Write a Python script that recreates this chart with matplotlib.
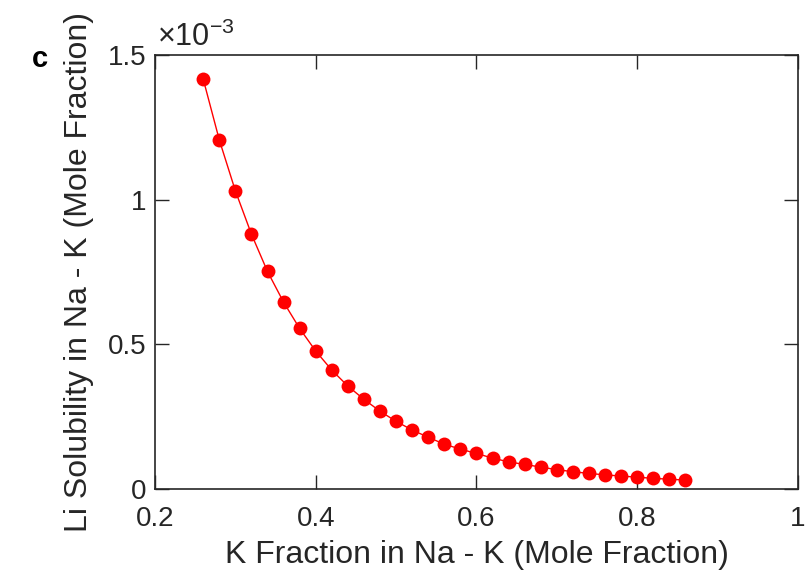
import numpy as np
import matplotlib.pyplot as plt
from matplotlib.ticker import FuncFormatter

plt.rcParams['font.family'] = ['Liberation Sans', 'DejaVu Sans']
plt.rcParams['mathtext.fontset'] = 'custom'
plt.rcParams['mathtext.rm'] = 'Liberation Sans'

# K fraction in Na-K (mole fraction)
k_fraction = [0.26, 0.28, 0.30, 0.32, 0.34, 0.36, 0.38, 0.40, 0.42, 0.44,
              0.46, 0.48, 0.50, 0.52, 0.54, 0.56, 0.58, 0.60, 0.62, 0.64,
              0.66, 0.68, 0.70, 0.72, 0.74, 0.76, 0.78, 0.80, 0.82, 0.84, 0.86]
# Li solubility (mole fraction)
li_solubility = np.array([1.417, 1.207, 1.031, 0.881, 0.752, 0.646, 0.555, 0.477, 0.411, 0.356,
                          0.310, 0.269, 0.234, 0.204, 0.179, 0.155, 0.138, 0.123, 0.107, 0.094,
                          0.085, 0.076, 0.067, 0.060, 0.054, 0.049, 0.045, 0.041, 0.037, 0.034,
                          0.031]) * 1e-3

x_ticks = [0.2, 0.4, 0.6, 0.8, 1.0]
y_ticks = [0, 0.5e-3, 1.0e-3, 1.5e-3]

fig = plt.figure(figsize=(8.06, 5.74), dpi=100)
ax = fig.add_axes([0.1923, 0.148, 0.7977, 0.756])

ax.plot(k_fraction, li_solubility, '-o', color='#ff0000', lw=1.0,
        markersize=10, markeredgewidth=0)

ax.set_xlim(0.2, 1.0)
ax.set_ylim(0, 1.5e-3)
ax.set_xticks(x_ticks)
ax.set_yticks(y_ticks)
ax.xaxis.set_major_formatter(FuncFormatter(lambda v, p: '%g' % v))
ax.yaxis.set_major_formatter(FuncFormatter(lambda v, p: '%g' % round(v * 1e3, 3)))

ax.tick_params(direction='in', length=10, width=1.0, color='#262626',
               labelsize=20, top=True, right=True, labelcolor='#262626')
ax.tick_params(axis='x', pad=12)
ax.tick_params(axis='y', pad=6)
for s in ax.spines.values():
    s.set_color('#262626')
    s.set_linewidth(1.2)

ax.set_xlabel('K Fraction in Na - K (Mole Fraction)', fontsize=23, color='#262626', labelpad=6)
ax.set_ylabel('Li Solubility in Na - K (Mole Fraction)', fontsize=23, color='#262626', labelpad=10)

ax.text(0.003, 1.004, r'$\times\mathregular{10^{-3}}$', transform=ax.transAxes,
        fontsize=22, color='#262626', ha='left', va='bottom')
fig.text(0.05, 0.898, 'c', fontsize=21, fontweight='bold', ha='center', va='center')

fig.savefig('out.png', dpi=100)
